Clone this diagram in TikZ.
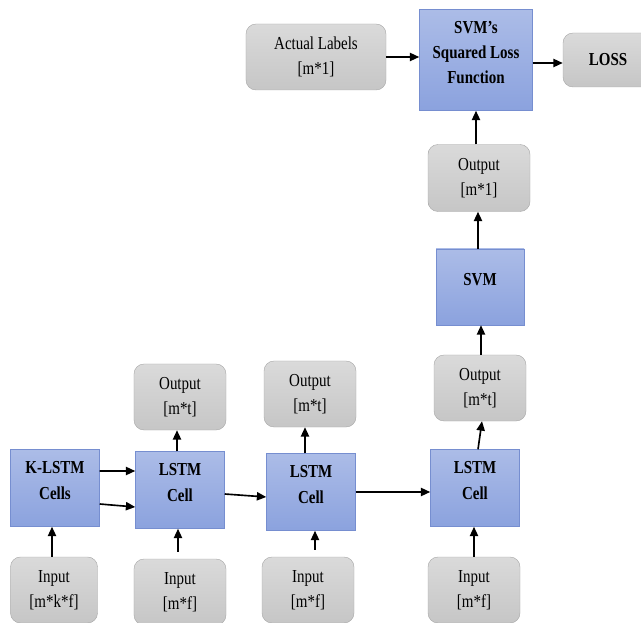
\documentclass[tikz,border=0pt]{standalone}
\usepackage{fontspec}
\setmainfont{Liberation Serif}[FakeStretch=0.82]
\usepackage{tikz}
\definecolor{cellblue}{RGB}{139, 162, 222}
\definecolor{celledge}{RGB}{118, 142, 208}
\definecolor{boxgray}{RGB}{198, 198, 198}
\usetikzlibrary{shapes,arrows.meta,positioning}
% text of a blue cell sits a little above the middle
\newcommand{\celltext}[1]{\raisebox{0.07cm}[0pt][0pt]{\begin{tabular}{@{}c@{}}#1\end{tabular}}}

\begin{document}
\begin{tikzpicture}[x=0.03cm, y=-0.03cm, >={Triangle[length=8pt,width=7pt]},
    every node/.style={font=\fontsize{15.6}{21.5}\selectfont, align=center},
    cellbox/.style={rectangle, draw=celledge, top color=cellblue!72, bottom color=cellblue, minimum width=2.67cm, minimum height=2.31cm, font=\fontsize{15.6}{21.5}\selectfont\bfseries},
    iobox/.style={rectangle, rounded corners=0.3cm, draw=boxgray!85!black, top color=boxgray!65, bottom color=boxgray, minimum width=2.76cm, minimum height=1.98cm},
    link/.style={->, line width=1.4pt}]
    \useasboundingbox (0,0) rectangle (641,623);

    % top row
    \node[iobox, minimum width=4.2cm] (labels) at (316,57) {Actual Labels\\{}[m*1]};
    \node[cellbox, minimum width=3.39cm, minimum height=3.03cm] (lossfn) at (476,60) {\celltext{SVM’s\\Squared Loss\\Function}};
    \node[iobox, minimum width=2.7cm, minimum height=1.62cm, font=\fontsize{15.6}{21.5}\selectfont\bfseries] (loss) at (608,60) {LOSS};

    % svm column
    \node[iobox, minimum width=3.06cm, minimum height=2.01cm] (outone) at (479,178) {Output\\{}[m*1]};
    \node[cellbox, minimum width=2.64cm, minimum height=2.28cm] (svm) at (480,287) {\celltext{SVM}};
    \node[iobox] (outd) at (480,388) {Output\\{}[m*t]};

    % lstm row
    \node[cellbox] (klstm) at (55,488) {\celltext{K-LSTM\\Cells}};
    \node[cellbox] (lstma) at (180,490) {\celltext{LSTM\\Cell}};
    \node[cellbox] (lstmb) at (311,492) {\celltext{LSTM\\Cell}};
    \node[cellbox] (lstmc) at (475,488) {\celltext{LSTM\\Cell}};

    \node[iobox] (outa) at (180,397) {Output\\{}[m*t]};
    \node[iobox] (outb) at (310,394) {Output\\{}[m*t]};

    \node[iobox, minimum width=2.61cm] (ink) at (54,590) {Input\\{}[m*k*f]};
    \node[iobox] (ina) at (180,592) {Input\\{}[m*f]};
    \node[iobox] (inb) at (308,590) {Input\\{}[m*f]};
    \node[iobox] (inc) at (474,590) {Input\\{}[m*f]};

    \draw[link] (labels) -- (labels -| lossfn.west);
    \draw[link] ([yshift=-0.09cm]lossfn.east) -- ([yshift=-0.09cm]lossfn.east -| loss.west);
    \draw[link] (outone.north -| lossfn) -- (lossfn.south);
    \draw[link] (svm.north -| 478,0) -- (outone.south -| 478,0);
    \draw[link] (outd.north -| 481,0) -- (svm.south -| 481,0);
    \draw[link] (lstmc.north -| 478,0) -- (outd.south -| 482,0);

    \draw[link] ([yshift=0.51cm]klstm.east) -- ([yshift=0.57cm]lstma.west);
    \draw[link] ([yshift=-0.48cm]klstm.east) -- ([yshift=-0.51cm]lstma.west);
    \draw[link] ([yshift=-0.12cm]lstma.east) -- ([yshift=-0.15cm]lstmb.west);
    \draw[link] (lstmb) -- (lstmb -| lstmc.west);

    \draw[link] (lstma.north -| 177,0) -- (outa.south -| 177,0);
    \draw[link] (lstmb.north -| 305,0) -- (outb.south -| 305,0);

    \draw[link] (ink.north -| 52,0) -- (klstm.south -| 52,0);
    \draw[link] ([yshift=0.21cm]ina.north -| 178,0) -- (lstma.south -| 178,0);
    \draw[link] ([yshift=0.21cm]inb.north -| 315,0) -- (lstmb.south -| 315,0);
    \draw[link] (inc.north) -- (lstmc.south -| inc);
\end{tikzpicture}
\end{document}
